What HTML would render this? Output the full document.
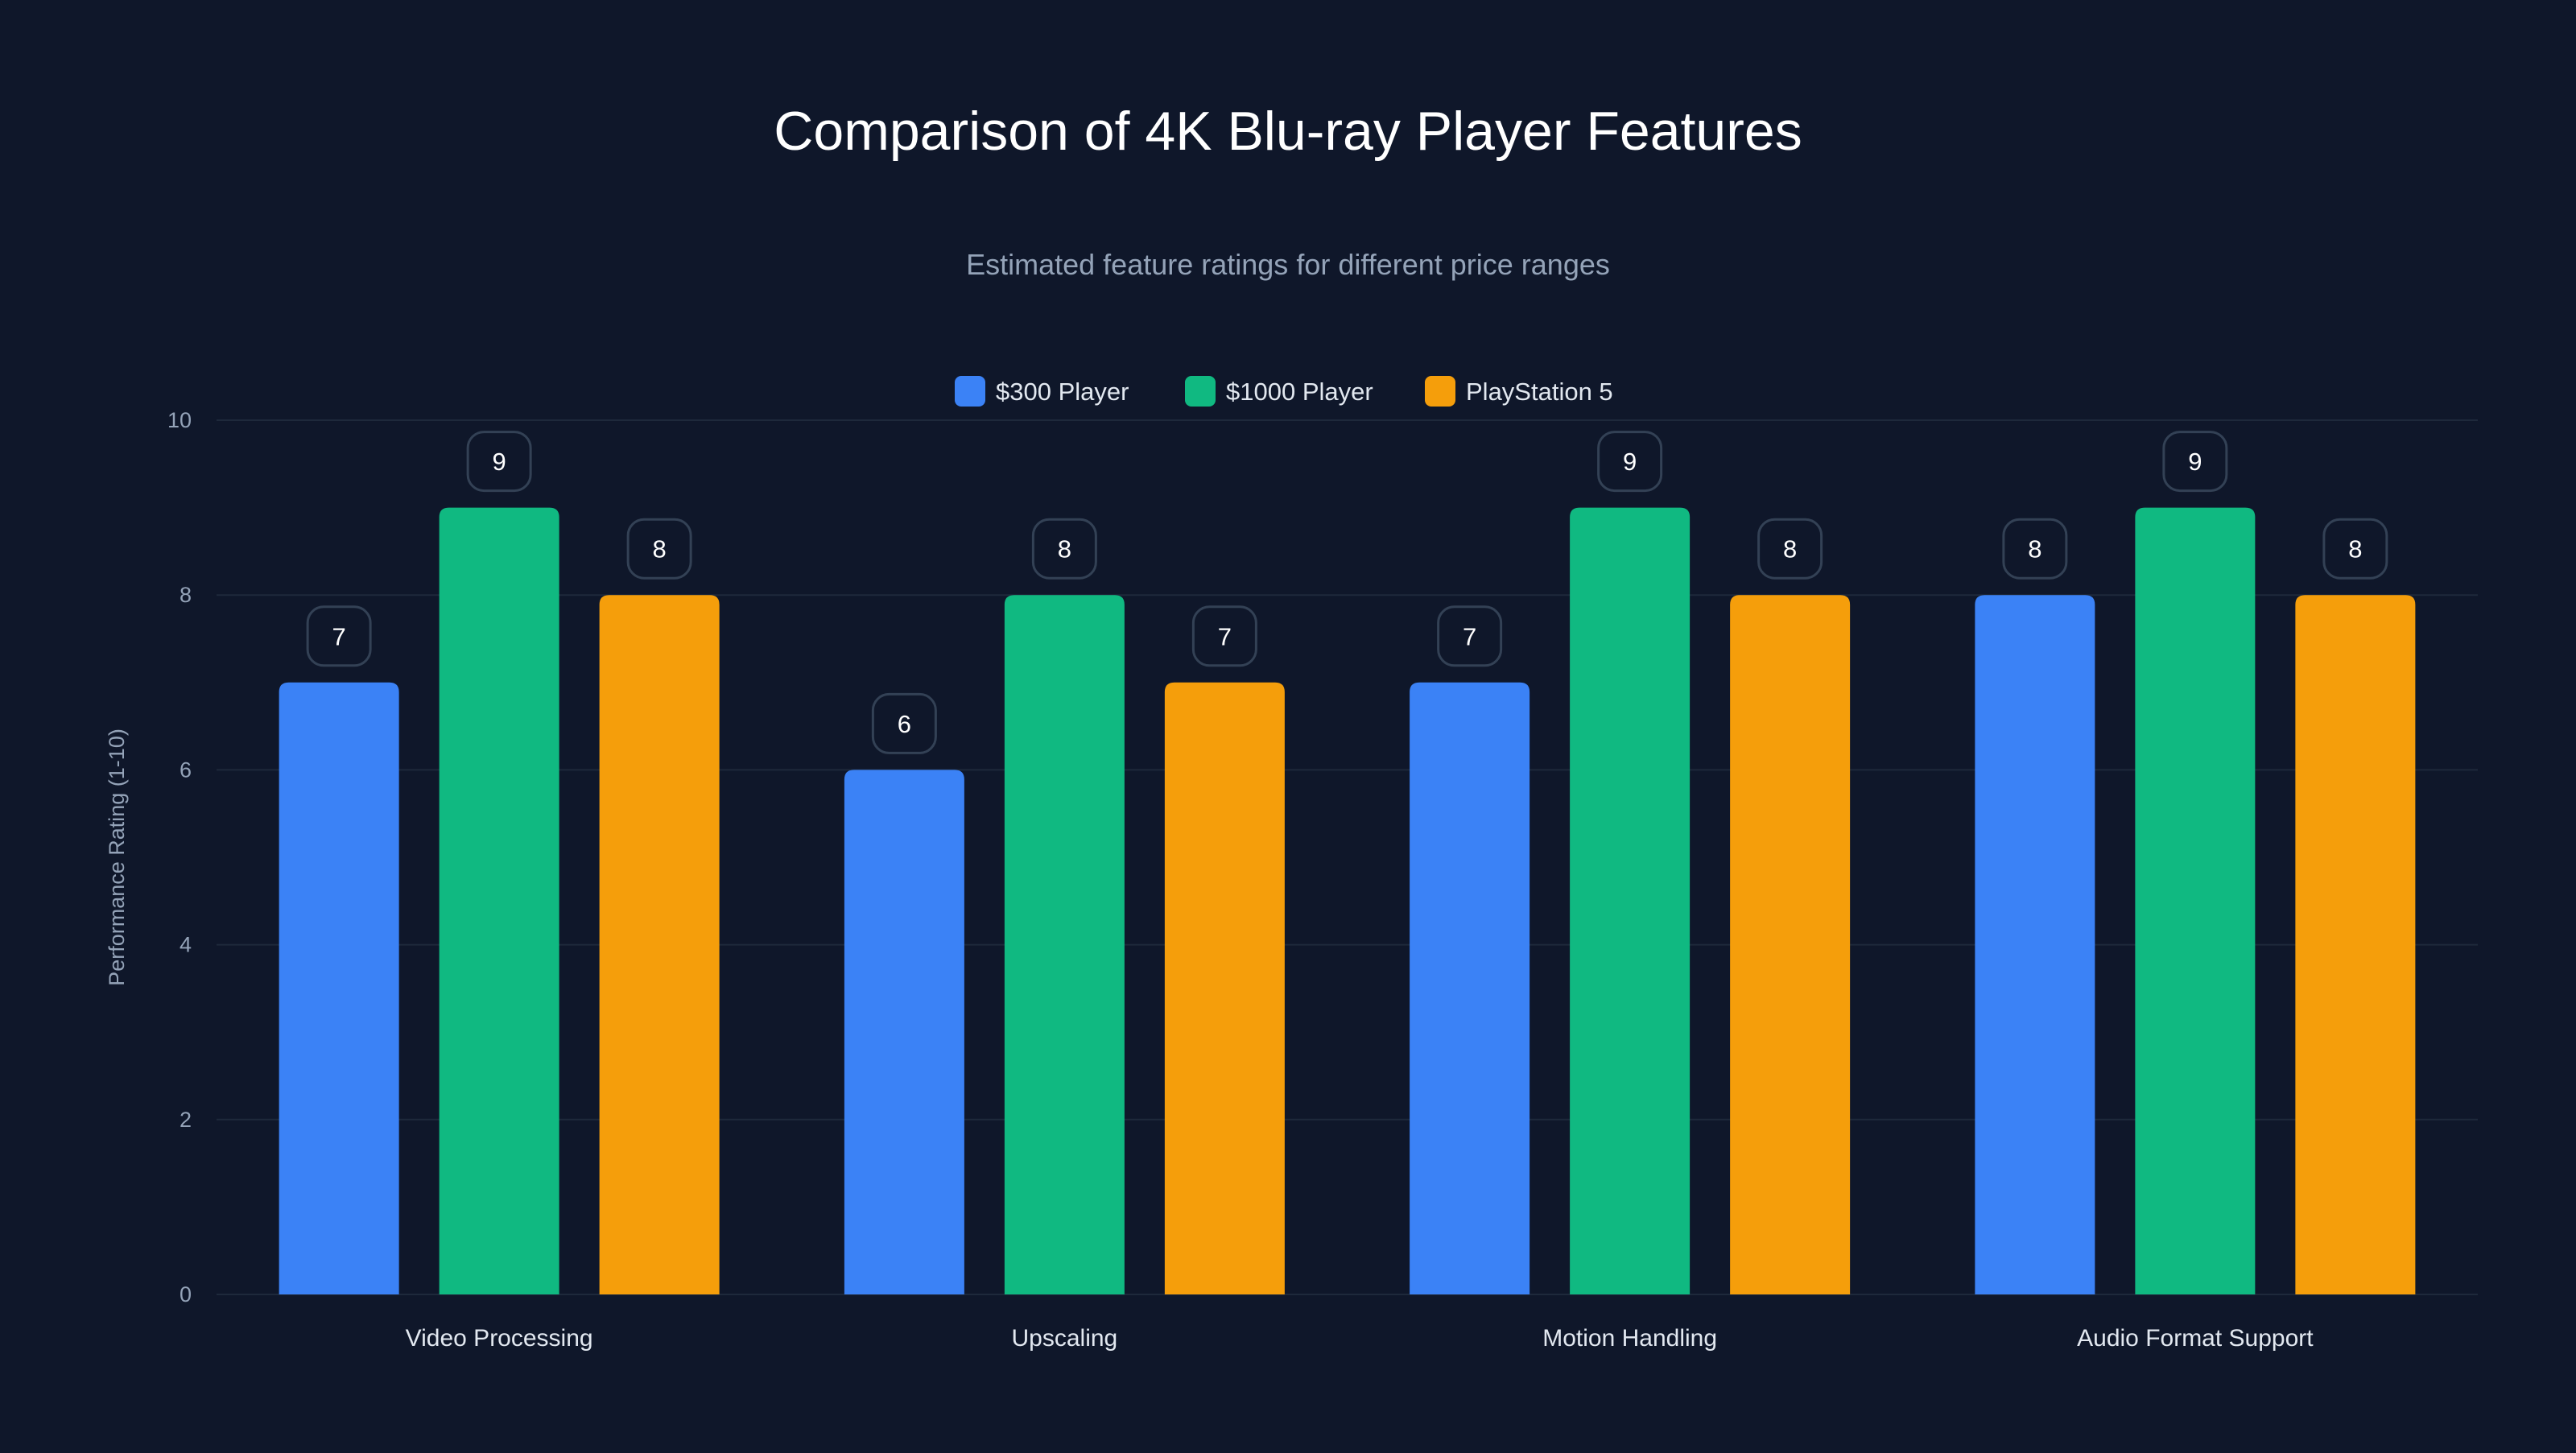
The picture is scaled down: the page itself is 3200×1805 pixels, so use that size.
<!DOCTYPE html>
<html><head><meta charset="utf-8"><style>
html,body{margin:0;padding:0;background:#0f172a;}
body{width:3200px;height:1800px;overflow:hidden;font-family:"Liberation Sans",sans-serif;}
</style></head><body>
<svg id="chart" width="3200" height="1800" xmlns="http://www.w3.org/2000/svg">
<rect x="0" y="0" width="3200" height="1800" fill="#0f172a"/>
<text x="1600" y="186" text-anchor="middle" fill="#ffffff" font-size="68">Comparison of 4K Blu-ray Player Features</text>
<text x="1600" y="341" text-anchor="middle" fill="#94a3b8" font-size="36">Estimated feature ratings for different price ranges</text>
<g>
<g><rect x="1186" y="467" width="38" height="38" rx="8" fill="#3b82f6"/><text x="1237" y="497" fill="#e2e8f0" font-size="31">$300 Player</text></g>
<g><rect x="1472" y="467" width="38" height="38" rx="8" fill="#10b981"/><text x="1523" y="497" fill="#e2e8f0" font-size="31">$1000 Player</text></g>
<g><rect x="1770" y="467" width="38" height="38" rx="8" fill="#f59e0b"/><text x="1821" y="497" fill="#e2e8f0" font-size="31">PlayStation 5</text></g>
</g>
<text transform="translate(154,1065) rotate(-90)" text-anchor="middle" fill="#94a3b8" font-size="27">Performance Rating (1-10)</text>
<g id="grid"></g><g id="bars"></g><g id="labels"></g>
</svg>
<script>
const categories = ["Video Processing","Upscaling","Motion Handling","Audio Format Support"];
const series300 = [7,6,7,8];
const series1000 = [9,8,9,9];
const seriesPS5 = [8,7,8,8];
const yTicks = [0,2,4,6,8,10];
const NS="http://www.w3.org/2000/svg";
const L=269,R=3078,Y0=1608,Y10=522;
const y=v=>Y0-(Y0-Y10)*v/10;
const band=(R-L)/categories.length;
const xc=i=>L+band*(i+0.5);
const grid=document.getElementById('grid'),bars=document.getElementById('bars'),labels=document.getElementById('labels');
function mk(tag,attrs,parent){const e=document.createElementNS(NS,tag);for(const k in attrs)e.setAttribute(k,attrs[k]);parent.appendChild(e);return e;}
yTicks.forEach(t=>{
  const ln=mk('line',{x1:L,x2:R,y1:y(t),y2:y(t),stroke:'#1e293b','stroke-width':2},grid);
  
  
  const tx=mk('text',{x:238,y:y(t)+9,'text-anchor':'end',fill:'#94a3b8','font-size':27},grid);
  
  
  tx.textContent=t;
});
const series=[[series300,'#3b82f6'],[series1000,'#10b981'],[seriesPS5,'#f59e0b']];
const bw=149,off=199,r=12;
categories.forEach((c,i)=>{
  const tx=mk('text',{x:xc(i),y:1672,'text-anchor':'middle',fill:'#e2e8f0','font-size':30},labels);
  
  
  tx.textContent=c;
  series.forEach(([vals,col],s)=>{
    const cx=xc(i)+(s-1)*off,x0=cx-bw/2,top=y(vals[i]);
    const p=mk('path',{d:`M${x0},${Y0} V${top+r} Q${x0},${top} ${x0+r},${top} H${x0+bw-r} Q${x0+bw},${top} ${x0+bw},${top+r} V${Y0} Z`,fill:col},bars);
    
    
    const b=mk('rect',{x:cx-39,y:top-21-73,width:78,height:73,rx:20,fill:'#0f172a',stroke:'#334155','stroke-width':3},labels);
    
    
    const vt=mk('text',{x:cx,y:top-21-73/2+11,'text-anchor':'middle',fill:'#ffffff','font-size':31},labels);
    
    
    vt.textContent=vals[i];
  });
});
</script>
</body></html>
